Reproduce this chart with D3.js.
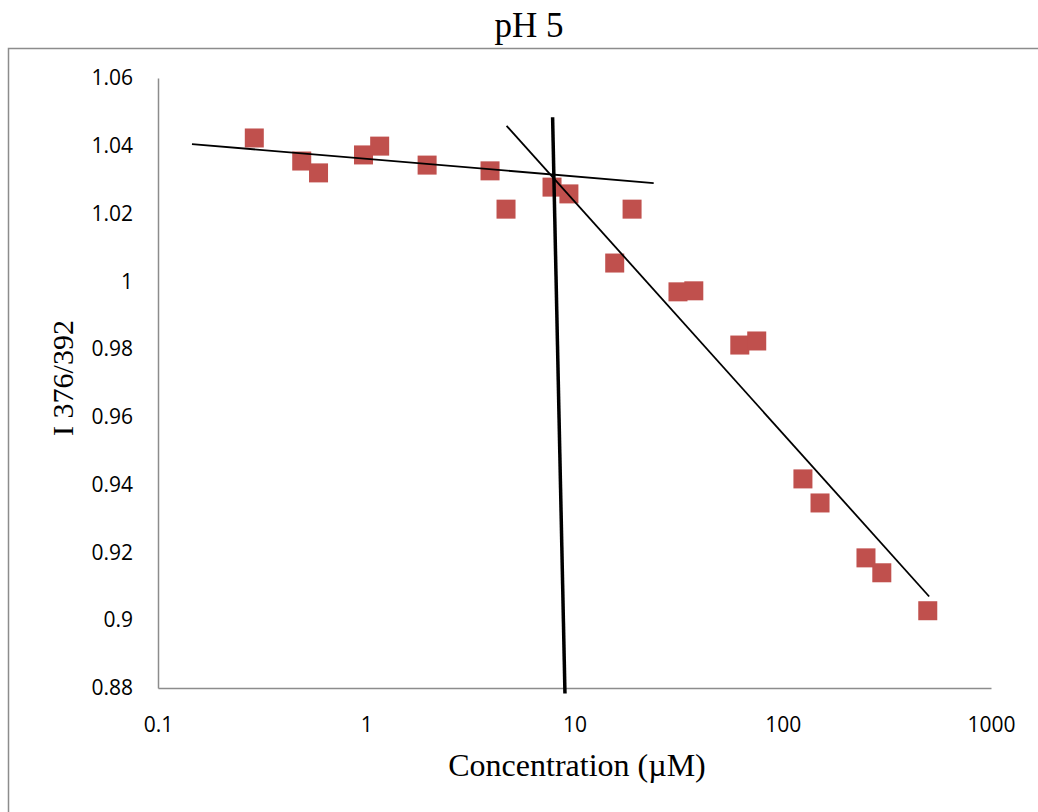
<!DOCTYPE html>
<html>
<head>
<meta charset="utf-8">
<script src="https://cdn.jsdelivr.net/npm/d3@7"></script>
<style>
  html, body { margin: 0; padding: 0; background: #fff; }
  svg { display: block; }
</style>
</head>
<body>
<script>
// Pyrene I376/I392 ratio vs. concentration at pH 5
const concentrations = [0.29, 0.49, 0.59, 0.97, 1.16, 1.96, 3.93, 4.69, 7.8, 9.4, 15.6, 18.9, 31.4, 37.4, 62.2, 75, 125, 151, 251, 299, 497];
const ratios = [1.0423, 1.0355, 1.0320, 1.0373, 1.0399, 1.0343, 1.0326, 1.0213, 1.0278, 1.0258, 1.0054, 1.0213, 0.9969, 0.9972, 0.9812, 0.9824, 0.9417, 0.9346, 0.9184, 0.9140, 0.9028];

// Hand-drawn trend lines: [x1, y1, x2, y2] in data units
const plateauLine = [0.1456, 1.0405, 24.0, 1.0290];
const slopeLine = [4.72, 1.0459, 504.7, 0.9070];
const cmcLine = [7.85, 1.0484, 9.0, 0.8784];

const xTicks = [0.1, 1, 10, 100, 1000];
const xTickLabels = ["0.1", "1", "10", "100", "1000"];
const yTicks = [0.88, 0.9, 0.92, 0.94, 0.96, 0.98, 1, 1.02, 1.04, 1.06];
const yTickLabels = ["0.88", "0.9", "0.92", "0.94", "0.96", "0.98", "1", "1.02", "1.04", "1.06"];

const W = 1038, H = 812;
const svg = d3.select("body").append("svg").attr("width", W).attr("height", H);

// Chart area frame
svg.append("rect")
  .attr("x", 8.5).attr("y", 48.5)
  .attr("width", W + 20).attr("height", H + 20)
  .attr("fill", "none").attr("stroke", "#8c8c8c").attr("stroke-width", 1.5);

const x = d3.scaleLog().domain([0.1, 1000]).range([158, 991]);
const y = d3.scaleLinear().domain([0.88, 1.06]).range([688, 78]);

const sansFont = "'Open Sans', Lato, sans-serif";
const serifFont = "'Liberation Serif', 'Times New Roman', serif";

// Title
svg.append("text")
  .attr("x", 529).attr("y", 37)
  .attr("text-anchor", "middle")
  .attr("font-family", serifFont).attr("font-size", 35)
  .text("pH 5");

// Axes
const xAxis = d3.axisBottom(x).tickValues(xTicks)
  .tickFormat((d, i) => xTickLabels[i]).tickSize(0).tickPadding(29);
const gx = svg.append("g").attr("transform", "translate(0,688)").call(xAxis);

const yAxis = d3.axisLeft(y).tickValues(yTicks)
  .tickFormat((d, i) => yTickLabels[i]).tickSize(0).tickPadding(25);
const gy = svg.append("g").attr("transform", "translate(158,0)").call(yAxis);

[gx, gy].forEach(g => {
  g.select(".domain").attr("stroke", "#8c8c8c").attr("stroke-width", 1.5);
  g.selectAll("text")
    .attr("font-family", sansFont).attr("font-size", 21).attr("fill", "#000");
});

// Axis titles
svg.append("text")
  .attr("x", 577).attr("y", 776)
  .attr("text-anchor", "middle")
  .attr("font-family", serifFont).attr("font-size", 32)
  .text("Concentration (\u00b5M)");

svg.append("text")
  .attr("transform", "translate(73,378) rotate(-90)")
  .attr("text-anchor", "middle")
  .attr("font-family", serifFont).attr("font-size", 30)
  .text("I 376/392");

// Data markers
const size = 19;
svg.append("g").selectAll("rect")
  .data(concentrations.map((c, i) => [c, ratios[i]]))
  .join("rect")
  .attr("x", d => x(d[0]) - size / 2)
  .attr("y", d => y(d[1]) - size / 2)
  .attr("width", size).attr("height", size)
  .attr("fill", "#C0504D");

// Trend lines
function drawLine(seg, width) {
  svg.append("line")
    .attr("x1", x(seg[0])).attr("y1", y(seg[1]))
    .attr("x2", x(seg[2])).attr("y2", y(seg[3]))
    .attr("stroke", "#000").attr("stroke-width", width);
}
drawLine(plateauLine, 1.8);
drawLine(slopeLine, 1.8);
drawLine(cmcLine, 3.5);
</script>
</body>
</html>
